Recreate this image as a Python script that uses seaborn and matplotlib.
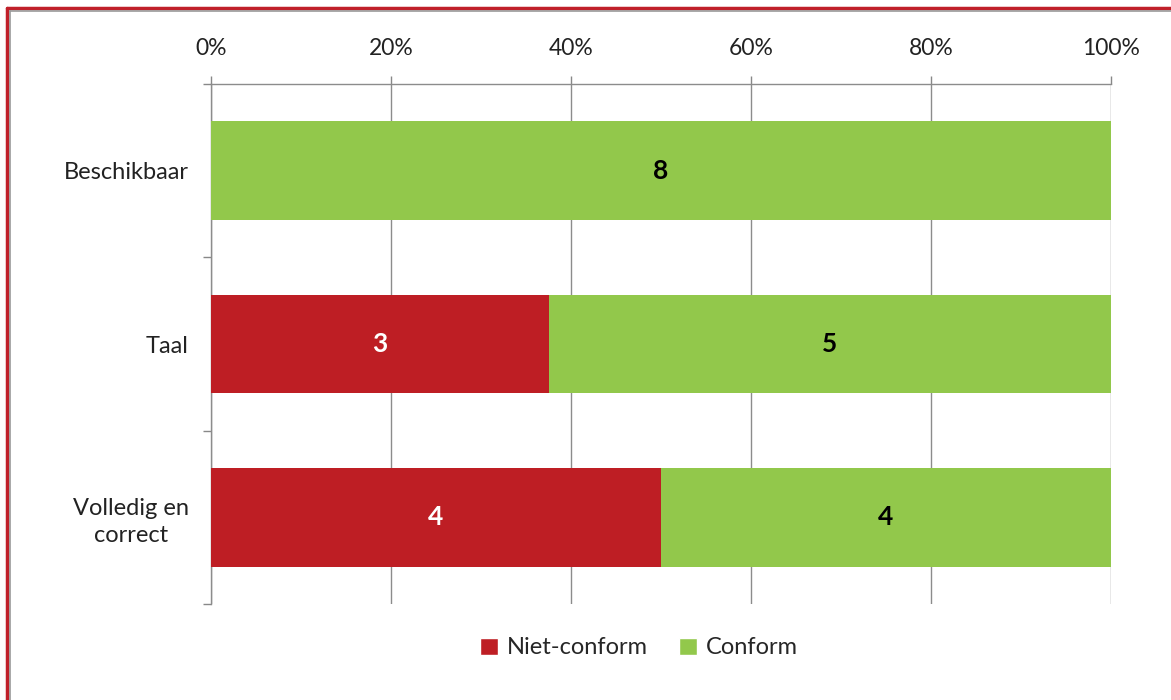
import pandas as pd
import matplotlib.pyplot as plt
import matplotlib.ticker as mticker
from matplotlib.lines import Line2D
from matplotlib.patches import Patch
import seaborn as sns

# data
categories = ['Beschikbaar', 'Taal', 'Volledig en\ncorrect']
niet_conform = [0, 3, 4]
conform = [8, 5, 4]

red = '#BE1E24'
green = '#92C84B'

totals = [a + b for a, b in zip(niet_conform, conform)]
df = pd.DataFrame({
    'Categorie': categories,
    'Niet-conform': [100 * a / t for a, t in zip(niet_conform, totals)],
    'Totaal': [100.0 for t in totals],
})

sns.set_style("white")
plt.rcParams['font.family'] = ['Lato', 'DejaVu Sans']

fig = plt.figure(figsize=(11.71, 7.0), dpi=100)
ax = fig.add_axes([211 / 1171, 1 - 604 / 700, 900 / 1171, 520 / 700])

# stacked: full bar in green, red part drawn over it
sns.barplot(data=df, x='Totaal', y='Categorie', color=green, orient='h',
            width=0.57, saturation=1, linewidth=0, ax=ax, zorder=3)
sns.barplot(data=df, x='Niet-conform', y='Categorie', color=red, orient='h',
            width=0.57, saturation=1, linewidth=0, ax=ax, zorder=3)

# count labels
for i in range(len(categories)):
    p = df['Niet-conform'][i]
    if niet_conform[i] > 0:
        ax.text(p / 2, i, str(niet_conform[i]), ha='center', va='center',
                color='white', fontsize=19, fontweight='bold', zorder=5)
    if conform[i] > 0:
        ax.text(p + (100 - p) / 2, i, str(conform[i]), ha='center', va='center',
                color='black', fontsize=19, fontweight='bold', zorder=5)

ax.set_xlim(0, 100)
ax.set_ylim(2.5, -0.5)
ax.xaxis.set_major_locator(mticker.MultipleLocator(20))
ax.xaxis.set_major_formatter(mticker.FuncFormatter(lambda v, pos: f'{int(v)}%'))
ax.xaxis.tick_top()
ax.tick_params(axis='x', which='major', top=True, bottom=False, length=6,
               width=1, color='#888888', labelsize=16.5, pad=12, labelcolor='#222222')
ax.grid(axis='x', color='#8c8c8c', linewidth=1, zorder=0)

ax.yaxis.set_minor_locator(mticker.FixedLocator([-0.5, 0.5, 1.5, 2.5]))
ax.tick_params(axis='y', which='major', length=0, labelsize=17, pad=16,
               labelcolor='#222222')
ax.tick_params(axis='y', which='minor', left=True, length=6, width=1, color='#888888')
for lab in ax.get_yticklabels():
    lab.set_multialignment('center')
    lab.set_linespacing(1.35)

ax.set_xlabel('')
ax.set_ylabel('')
for side in ['right', 'bottom']:
    ax.spines[side].set_visible(False)
for side in ['top', 'left']:
    ax.spines[side].set_color('#8c8c8c')
    ax.spines[side].set_linewidth(1)

handles = [Patch(facecolor=red, label='Niet-conform'),
           Patch(facecolor=green, label='Conform')]
fig.legend(handles=handles, loc='center', bbox_to_anchor=(639 / 1171, 1 - 648 / 700),
           ncol=2, frameon=False, fontsize=17, handlelength=0.75, handleheight=0.75,
           handletextpad=0.4, columnspacing=1.3)

# red frame of the chart area (only top and left visible in the crop)
fig.add_artist(Line2D([7 / 1171, 7 / 1171], [0, 1 - 8 / 700], color='#C0202A', lw=2.5,
                      transform=fig.transFigure))
fig.add_artist(Line2D([7 / 1171, 1], [1 - 8 / 700, 1 - 8 / 700], color='#C0202A', lw=2.5,
                      transform=fig.transFigure))
fig.add_artist(Line2D([10 / 1171, 10 / 1171], [0, 1 - 10.5 / 700], color='#999999', lw=1.2,
                      transform=fig.transFigure))
fig.add_artist(Line2D([10 / 1171, 1], [1 - 10.5 / 700, 1 - 10.5 / 700], color='#999999', lw=1.2,
                      transform=fig.transFigure))

plt.savefig('out.png', dpi=100)
